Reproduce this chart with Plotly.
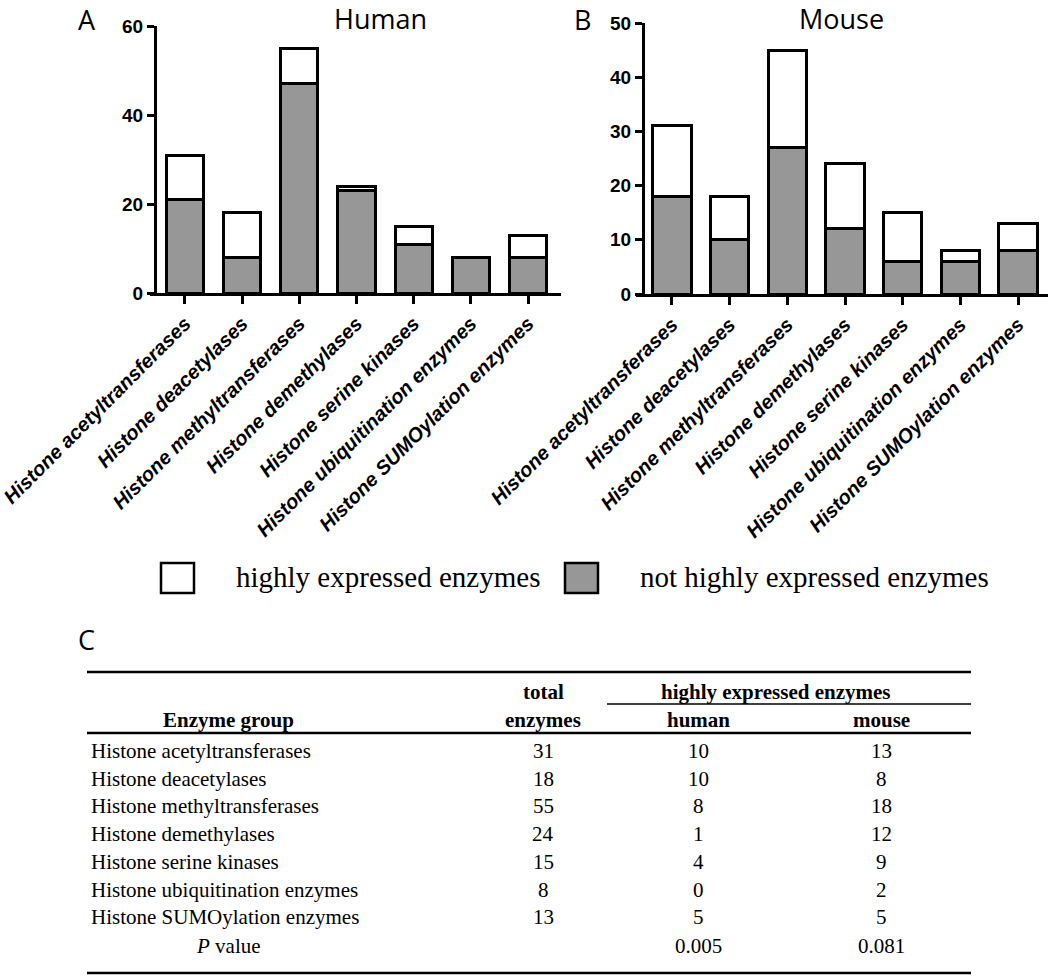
import plotly.graph_objects as go

# ---------------- data ----------------
categories = [
    "Histone acetyltransferases",
    "Histone deacetylases",
    "Histone methyltransferases",
    "Histone demethylases",
    "Histone serine kinases",
    "Histone ubiquitination enzymes",
    "Histone SUMOylation enzymes",
]
total_enzymes = [31, 18, 55, 24, 15, 8, 13]
human_high = [10, 10, 8, 1, 4, 0, 5]
human_not_high = [21, 8, 47, 23, 11, 8, 8]
mouse_high = [13, 8, 18, 12, 9, 2, 5]
mouse_not_high = [18, 10, 27, 12, 6, 6, 8]
p_values = ["0.005", "0.081"]
human_yticks = [0, 20, 40, 60]
mouse_yticks = [0, 10, 20, 30, 40, 50]
legend_labels = ["highly expressed enzymes", "not highly expressed enzymes"]
panel_titles = ["Human", "Mouse"]
panel_letters = ["A", "B", "C"]
table_header_top = ["total", "highly expressed enzymes"]
table_header_bottom = ["Enzyme group", "enzymes", "human", "mouse"]

# ---------------- helpers ----------------
W, H = 1050, 978
GRAY = "#979797"
SANS = "Liberation Sans, Arial, sans-serif"
SERIF = "Liberation Serif, Times New Roman, serif"
TITLE = "Open Sans, Noto Sans, sans-serif"


def px(x):
    return x / W


def py(y):
    return 1 - y / H


fig = go.Figure()

bar_line = dict(color="black", width=3)
fig.add_trace(go.Bar(x=categories, y=human_not_high, width=0.65,
                     marker=dict(color=GRAY, line=bar_line),
                     xaxis="x", yaxis="y", showlegend=False))
fig.add_trace(go.Bar(x=categories, y=human_high, width=0.65,
                     marker=dict(color="white", line=bar_line),
                     xaxis="x", yaxis="y", showlegend=False))
fig.add_trace(go.Bar(x=categories, y=mouse_not_high, width=0.667,
                     marker=dict(color=GRAY, line=bar_line),
                     xaxis="x2", yaxis="y2", showlegend=False))
fig.add_trace(go.Bar(x=categories, y=mouse_high, width=0.667,
                     marker=dict(color="white", line=bar_line),
                     xaxis="x2", yaxis="y2", showlegend=False))

xcommon = dict(
    type="category", showline=True, linecolor="black", linewidth=3,
    ticks="outside", ticklen=8, tickwidth=3, tickcolor="black",
    tickangle=-45, showgrid=False, zeroline=False, automargin=False,
    tickfont=dict(family=SANS, size=20, color="black", weight="bold", style="italic"),
)
ycommon = dict(
    showline=True, linecolor="black", linewidth=3,
    ticks="outside", ticklen=7, tickwidth=3, tickcolor="black",
    showgrid=False, zeroline=False, automargin=False,
    tickfont=dict(family=SANS, size=19, color="black", weight="bold"),
)

# x-axis line starts a few pixels left of the y-axis (Prism style)
fig.update_layout(
    width=W, height=H,
    margin=dict(l=0, r=0, t=0, b=0),
    paper_bgcolor="white", plot_bgcolor="white",
    template="none",
    barmode="stack",
    showlegend=False,
    xaxis=dict(xcommon, domain=[px(150), px(561)], range=[-0.612, 6.577], anchor="y"),
    yaxis=dict(ycommon, domain=[py(293), py(26)], range=[0, 60],
               tickvals=human_yticks, anchor="free", position=px(155)),
    xaxis2=dict(xcommon, domain=[px(636), px(1048)], range=[-0.624, 6.52], anchor="y2"),
    yaxis2=dict(ycommon, domain=[py(294), py(23)], range=[0, 50],
                tickvals=mouse_yticks, anchor="free", position=px(643)),
)

ann = []
shapes = []


def text(x, y, s, size, family, xanchor="center", bold=False, italic=False):
    ann.append(dict(
        x=px(x), y=py(y), xref="paper", yref="paper", text=s, showarrow=False,
        xanchor=xanchor, yanchor="middle",
        font=dict(family=family, size=size, color="black",
                  weight="bold" if bold else "normal",
                  style="italic" if italic else "normal"),
    ))


def hline(x0, x1, y, w):
    shapes.append(dict(type="line", xref="paper", yref="paper",
                       x0=px(x0), x1=px(x1), y0=py(y), y1=py(y),
                       line=dict(color="black", width=w)))


# panel letters and titles
text(87, 19, panel_letters[0], 27, TITLE)
text(582, 19, panel_letters[1], 27, TITLE)
text(86, 639, panel_letters[2], 27, TITLE)
text(380, 18, panel_titles[0], 27, TITLE)
text(841, 18, panel_titles[1], 27, TITLE)

# legend
for (bx, tx), fill, lab in zip([(161, 234), (565, 638)], ["white", GRAY], legend_labels):
    shapes.append(dict(type="rect", xref="paper", yref="paper",
                       x0=px(bx), x1=px(bx + 33), y0=py(593), y1=py(563),
                       fillcolor=fill, line=dict(color="black", width=2.5)))
    text(tx, 577, lab, 29, SERIF, xanchor="left")

# table
col_group, col_total, col_human, col_mouse = 89, 543, 698, 881
table_left, table_right = 87, 971
hline(table_left, table_right, 672, 2.5)
hline(607, table_right, 704, 1.5)
hline(table_left, table_right, 733, 2.5)
text(col_total, 692, table_header_top[0], 21, SERIF, bold=True)
text(775, 692, table_header_top[1], 21, SERIF, bold=True)
text(228, 720, table_header_bottom[0], 21, SERIF, bold=True)
text(col_total, 720, table_header_bottom[1], 21, SERIF, bold=True)
text(col_human, 720, table_header_bottom[2], 21, SERIF, bold=True)
text(col_mouse, 720, table_header_bottom[3], 21, SERIF, bold=True)

first_row, row_step = 751, 27.7
for i, cat in enumerate(categories):
    y = first_row + i * row_step
    text(col_group, y, cat, 21, SERIF, xanchor="left")
    text(col_total, y, str(total_enzymes[i]), 21, SERIF)
    text(col_human, y, str(human_high[i]), 21, SERIF)
    text(col_mouse, y, str(mouse_high[i]), 21, SERIF)

p_y = first_row + len(categories) * row_step + 1
text(228, p_y, "<i>P</i> value", 21, SERIF)
text(col_human, p_y, p_values[0], 21, SERIF)
text(col_mouse, p_y, p_values[1], 21, SERIF)
hline(table_left, table_right, 973, 2.5)

fig.update_layout(annotations=ann, shapes=shapes)

fig.write_html("out.html", config={"displayModeBar": False},
               post_script="document.body.style.margin='0';")
